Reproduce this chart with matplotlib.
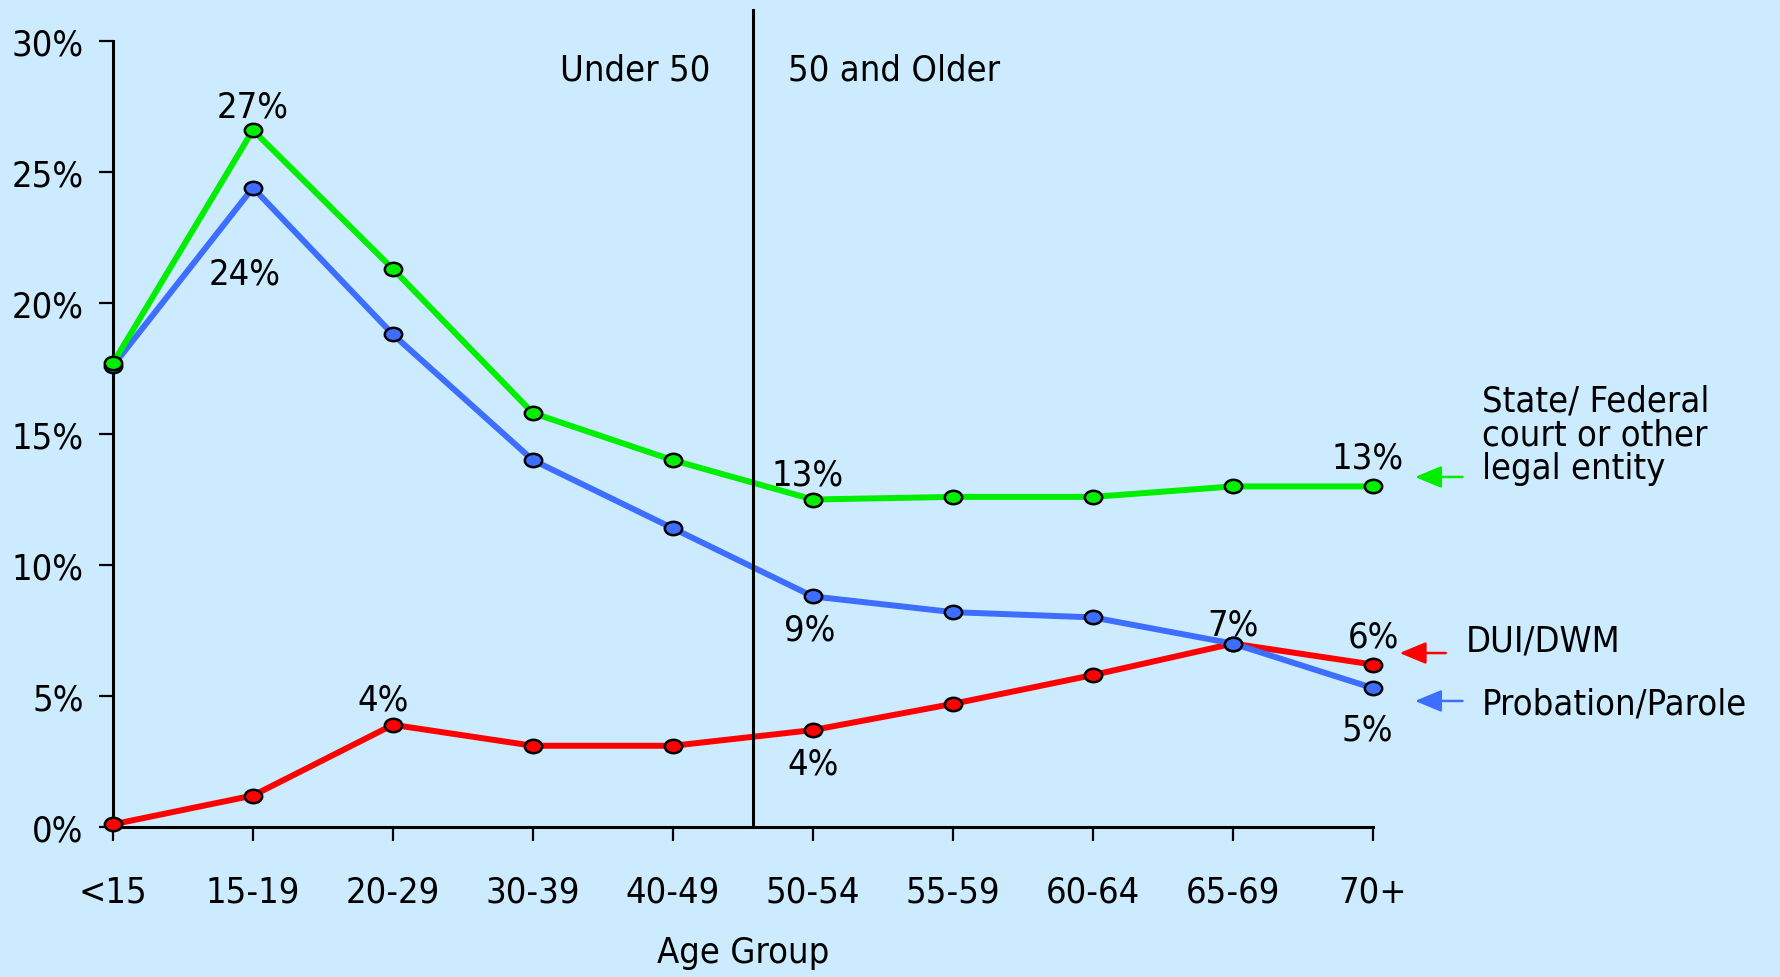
import matplotlib
matplotlib.use("Agg")
import matplotlib.pyplot as plt
from matplotlib.path import Path
from matplotlib.transforms import Affine2D

plt.rcParams['font.family'] = ['DejaVu Sans']
plt.rcParams['font.stretch'] = 'condensed'

categories = ["<15", "15-19", "20-29", "30-39", "40-49", "50-54", "55-59", "60-64", "65-69", "70+"]
state_federal = [17.7, 26.6, 21.3, 15.8, 14.0, 12.5, 12.6, 12.6, 13.0, 13.0]
probation_parole = [17.6, 24.4, 18.8, 14.0, 11.4, 8.8, 8.2, 8.0, 7.0, 5.3]
dui_dwm = [0.1, 1.2, 3.9, 3.1, 3.1, 3.7, 4.7, 5.8, 7.0, 6.2]
yticks = [0, 5, 10, 15, 20, 25, 30]
ytick_labels = ["0%", "5%", "10%", "15%", "20%", "25%", "30%"]

# (series, index, label text, dx pt, dy pt)
point_labels = [
    ("state", 1, "27%", 0, 17),
    ("prob", 1, "24%", -6, -62),
    ("dui", 2, "4%", -7, 18),
    ("state", 5, "13%", -4, 18),
    ("prob", 5, "9%", -2, -24),
    ("dui", 5, "4%", 0, -24),
    ("dui", 8, "7%", 0, 14),
    ("dui", 9, "6%", 0, 20),
    ("prob", 9, "5%", -4, -30),
    ("state", 9, "13%", -4, 21),
]

bg = '#CCEBFF'
green = '#00EE00'
blue = '#3D6EFF'
red = '#FF0000'
FS = 26

fig = plt.figure(figsize=(17.81, 9.78), dpi=100, facecolor=bg)
ax = fig.add_axes([0.0634, 0.1534, 0.7075, 0.8036])
ax.set_facecolor(bg)

ell = Path.unit_circle().transformed(Affine2D().scale(1.3, 1.0))
x = list(range(len(categories)))
series = {"state": state_federal, "prob": probation_parole, "dui": dui_dwm}
colors = {"state": green, "prob": blue, "dui": red}
for key in ["dui", "prob", "state"]:
    ax.plot(x, series[key], color=colors[key], lw=4.3, marker=ell, ms=12.5,
            mfc=colors[key], mec='black', mew=1.8, clip_on=False, zorder=3)

ax.set_xlim(0, 9)
ax.set_ylim(0, 30)
ax.set_xticks(x)
ax.set_xticklabels(categories)
ax.set_yticks(yticks)
ax.set_yticklabels(ytick_labels)
for s in ['top', 'right']:
    ax.spines[s].set_visible(False)
for s in ['left', 'bottom']:
    ax.spines[s].set_linewidth(2.2)
ax.tick_params(axis='both', direction='out', length=10, width=1.6, labelsize=FS)
ax.tick_params(axis='x', pad=24)
ax.tick_params(axis='y', pad=11)
ax.set_xlabel("Age Group", fontsize=FS, labelpad=19)

# divider between Under 50 and 50 and Older
ax.plot([4.57, 4.57], [0, 31.2], color='black', lw=2.2, clip_on=False, zorder=4)
ax.text(4.27, 28.9, "Under 50", fontsize=FS, ha='right', va='center')
ax.text(4.82, 28.9, "50 and Older", fontsize=FS, ha='left', va='center')

for key, i, txt, dx, dy in point_labels:
    ax.annotate(txt, (x[i], series[key][i]), xytext=(dx, dy), textcoords='offset points',
                ha='center', va='center', fontsize=FS, annotation_clip=False, zorder=5)

# right-side legend labels with arrows
def arrow(x0, x1, y, color):
    ax.annotate("", xy=(x0, y), xytext=(x1, y), annotation_clip=False,
                arrowprops=dict(arrowstyle='-|>,head_length=0.65,head_width=0.27',
                                color=color, lw=1.8, shrinkA=0, shrinkB=0,
                                mutation_scale=25))

arrow(9.3, 9.64, 13.36, green)
ax.text(9.78, 15.0, "State/ Federal\ncourt or other\nlegal entity", fontsize=FS,
        ha='left', va='center', linespacing=1.0, clip_on=False)
arrow(9.19, 9.52, 6.64, red)
ax.text(9.66, 7.1, "DUI/DWM", fontsize=FS, ha='left', va='center', clip_on=False)
arrow(9.3, 9.64, 4.81, blue)
ax.text(9.78, 4.7, "Probation/Parole", fontsize=FS, ha='left', va='center', clip_on=False)

fig.savefig("out.png", dpi=100, facecolor=bg)
